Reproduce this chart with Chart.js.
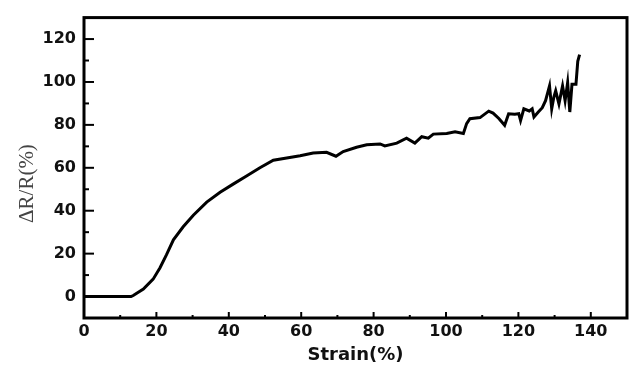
<!DOCTYPE html>
<html>
<head>
<meta charset="utf-8">
<script src="https://cdn.jsdelivr.net/npm/chart.js@4.4.1/dist/chart.umd.min.js"></script>
<style>
    html, body { margin: 0; padding: 0; background: #fff; }
    #wrap { width: 632px; height: 366px; }
</style>
</head>
<body>
<div id="wrap"><canvas id="strain-chart" width="632" height="366"></canvas></div>
<script>
// values
const strain = [0, 13, 13.6, 16.4, 19.1, 21, 22.8, 24.7, 27.4, 30.2, 33.9, 37.6, 41.2, 44.9, 48.6, 52.3, 56, 59.7, 63.3,
    67, 69.6, 71.6, 75.3, 78.1, 81.8, 83.1, 86.4, 89.1, 91.4, 93.3, 95.1, 96.5, 100.2, 102.5, 104.8,
    105.7, 106.6, 109.4, 111.8, 113, 114.6, 116.2, 117.3, 119, 120.1, 120.6, 121.5, 123, 123.8, 124.3, 125.5, 126.6,
    127.5, 128.6, 129.2, 129.8, 130.3, 131.2, 131.7, 132.2, 132.9, 133.6, 134.2, 134.8, 135.9, 136.4, 136.9];
const resistance = [0, 0, 0.5, 3.5, 8.1, 13.4, 19.5, 26.4, 32.5, 37.9, 44, 48.6, 52.4, 56.2, 60, 63.5, 64.6, 65.6, 66.9,
    67.2, 65.4, 67.6, 69.6, 70.7, 71.1, 70.2, 71.5, 73.8, 71.5, 74.5, 73.8, 75.7, 76, 76.8, 76,
    80.6, 82.9, 83.4, 86.4, 85.5, 83, 79.8, 85.2, 85, 85.2, 82, 87.5, 86.5, 87.5, 83.7, 86, 88,
    91.3, 98.2, 87.5, 93, 95.9, 89.8, 94, 98.2, 91.3, 99.7, 86, 98.9, 98.9, 109.6, 112.7];
const xTickLabels = [0, 20, 40, 60, 80, 100, 120, 140];
const yTickLabels = [0, 20, 40, 60, 80, 100, 120];

// frame box with inward ticks, like the origin-style plot
const frame = {
    id: 'frame',
    afterDatasetsDraw(chart) {
        const { ctx, chartArea: a, scales: { x, y } } = chart;
        ctx.save();
        ctx.strokeStyle = '#000';
        ctx.lineWidth = 2;
        for (let v = 10; v < 150; v += 10) {
            const px = x.getPixelForValue(v);
            const len = v % 20 === 0 ? 6 : 3;
            ctx.beginPath();
            ctx.moveTo(px, a.bottom);
            ctx.lineTo(px, a.bottom - len);
            ctx.stroke();
        }
        for (let v = 0; v <= 120; v += 10) {
            const py = y.getPixelForValue(v);
            const len = v % 20 === 0 ? 10 : 5;
            ctx.beginPath();
            ctx.moveTo(a.left, py);
            ctx.lineTo(a.left + len, py);
            ctx.stroke();
        }
        ctx.lineWidth = 3;
        ctx.strokeRect(a.left, a.top, a.right - a.left, a.bottom - a.top);
        ctx.restore();
    }
};

new Chart(document.getElementById('strain-chart').getContext('2d'), {
    type: 'line',
    data: {
        datasets: [{
            data: strain.map((s, i) => ({ x: s, y: resistance[i] })),
            borderColor: '#000',
            borderWidth: 3,
            pointRadius: 0,
            tension: 0
        }]
    },
    options: {
        responsive: false,
        animation: false,
        layout: { padding: { top: 12, right: 5, left: 0, bottom: 0 } },
        plugins: { legend: { display: false }, tooltip: { enabled: false } },
        scales: {
            x: {
                type: 'linear',
                min: 0,
                max: 150,
                grid: { display: false, drawTicks: false },
                border: { display: false },
                afterBuildTicks: scale => { scale.ticks = xTickLabels.map(v => ({ value: v })); },
                afterFit: scale => { scale.height = 48; },
                ticks: {
                    padding: 4,
                    color: '#111',
                    font: { family: 'DejaVu Sans', weight: 'bold', size: 16 }
                },
                title: {
                    display: true,
                    text: 'Strain(%)',
                    color: '#111',
                    padding: { top: 0, bottom: 0 },
                    font: { family: 'DejaVu Sans', weight: 'bold', size: 18 }
                }
            },
            y: {
                min: -10,
                max: 130,
                grid: { display: false, drawTicks: false },
                border: { display: false },
                afterBuildTicks: scale => { scale.ticks = yTickLabels.map(v => ({ value: v })); },
                afterFit: scale => { scale.width = 84; },
                ticks: {
                    padding: 8,
                    color: '#111',
                    font: { family: 'DejaVu Sans', weight: 'bold', size: 16 }
                },
                title: {
                    display: true,
                    // trailing spaces nudge the rotated label down a bit, as in the original
                    text: 'ΔR/R(%)      ',
                    color: '#444',
                    padding: { top: 15, bottom: 0 },
                    font: { family: 'Liberation Serif', size: 21 }
                }
            }
        }
    },
    plugins: [frame]
});
</script>
</body>
</html>
